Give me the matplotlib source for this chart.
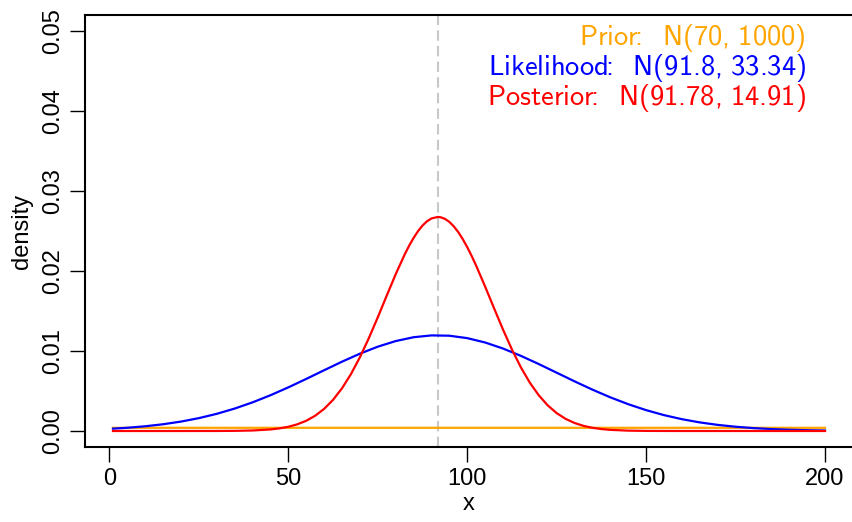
import matplotlib
matplotlib.use("Agg")
import matplotlib.pyplot as plt

# valeurs
x_prior = [1, 50, 100, 150, 200]
y_prior = [0.000398, 0.000399, 0.000399, 0.000398, 0.000396]

x_like = [1, 5, 10, 15, 20, 25, 30, 35, 40, 45, 50, 55, 60, 65, 70, 75, 80, 85, 90, 95,
          100, 105, 110, 115, 120, 125, 130, 135, 140, 145, 150, 155, 160, 165, 170,
          175, 180, 185, 190, 195, 200]
y_like = [0.000293, 0.000404, 0.000590, 0.000843, 0.001177, 0.001608, 0.002147, 0.002803,
          0.003579, 0.004468, 0.005453, 0.006507, 0.007593, 0.008663, 0.009663, 0.010539,
          0.011240, 0.011720, 0.011949, 0.011911, 0.011609, 0.011064, 0.010310, 0.009393,
          0.008368, 0.007289, 0.006207, 0.005169, 0.004208, 0.003350, 0.002608, 0.001984,
          0.001477, 0.001074, 0.000765, 0.000532, 0.000362, 0.000241, 0.000156, 0.0000995,
          0.0000618]

x_post = [1, 20, 30, 35, 40, 45, 47.5, 50, 52.5, 55, 57.5, 60, 62.5, 65, 67.5, 70, 72.5,
          75, 77.5, 80, 82.5, 83.75, 85, 86.25, 87.5, 88.75, 90, 91.78, 92.5, 93.75, 95,
          96.25, 97.5, 98.75, 100, 101.25, 102.5, 105, 107.5, 110, 112.5, 115, 117.5, 120,
          122.5, 125, 127.5, 130, 132.5, 135, 137.5, 140, 145, 150, 160, 200]
y_post = [0.0, 0.0000003, 0.000005, 0.000019, 0.000064, 0.000195, 0.000325, 0.000528,
          0.000832, 0.001277, 0.001904, 0.002760, 0.003891, 0.005332, 0.007106, 0.009207,
          0.011598, 0.014203, 0.016915, 0.019584, 0.022045, 0.023145, 0.024129, 0.024978,
          0.025677, 0.026210, 0.026567, 0.026757, 0.026726, 0.026524, 0.026140, 0.025581,
          0.024859, 0.023987, 0.022985, 0.021870, 0.020663, 0.018061, 0.015348, 0.012682,
          0.010188, 0.007957, 0.006044, 0.004463, 0.003204, 0.002236, 0.001517, 0.001001,
          0.000642, 0.000401, 0.000243, 0.000143, 0.0000458, 0.000013, 0.000001, 0.0]

post_mean = 91.78
labels = [r"$\mathrm{Prior\!\!:\ \ N(70,\,1000)}$",
          r"$\mathrm{Likelihood\!\!:\ \ N(91.8,\,33.34)}$",
          r"$\mathrm{Posterior\!\!:\ \ N(91.78,\,14.91)}$"]
couleurs = ["#FFA500", "#0000FF", "#FF0000"]

plt.rcParams['font.family'] = ['Liberation Sans', 'DejaVu Sans']
plt.rcParams['mathtext.fontset'] = 'custom'
plt.rcParams['mathtext.rm'] = 'cmss10'
plt.rcParams['mathtext.it'] = 'cmss10'
plt.rcParams['mathtext.bf'] = 'cmss10'

fig = plt.figure(figsize=(8.52, 5.22), dpi=100)
ax = fig.add_axes([84.5 / 852, 75 / 522, (853.5 - 84.5) / 852, 432 / 522])

ax.axvline(post_mean, color="#C8C8C8", lw=1.5, dashes=(5, 2.5), zorder=1)
ax.plot(x_prior, y_prior, color=couleurs[0], lw=1.6, zorder=2)
ax.plot(x_like, y_like, color=couleurs[1], lw=1.6, zorder=3)
ax.plot(x_post, y_post, color=couleurs[2], lw=1.6, zorder=4)

ax.set_xlim(-6.96, 207.96)
ax.set_ylim(-0.002, 0.052)
ax.set_xticks([0, 50, 100, 150, 200])
ax.set_yticks([0.0, 0.01, 0.02, 0.03, 0.04, 0.05])
ax.set_yticklabels(["0.00", "0.01", "0.02", "0.03", "0.04", "0.05"],
                   rotation=90, va='center')
ax.tick_params(axis='both', labelsize=17, length=11, width=1, direction='out')
ax.tick_params(axis='x', pad=4)
ax.tick_params(axis='y', pad=4)
for s in ax.spines.values():
    s.set_linewidth(1.5)

ax.set_xlabel('x', fontsize=17, labelpad=2)
ax.set_ylabel('density', fontsize=17, labelpad=6)

for i, (t, c) in enumerate(zip(labels, couleurs)):
    ax.text(806 / 852, (522 - 45 - 30 * i) / 522, t, color=c, fontsize=20.5,
            ha='right', va='baseline', transform=fig.transFigure)

fig.savefig("out.png", dpi=100)
